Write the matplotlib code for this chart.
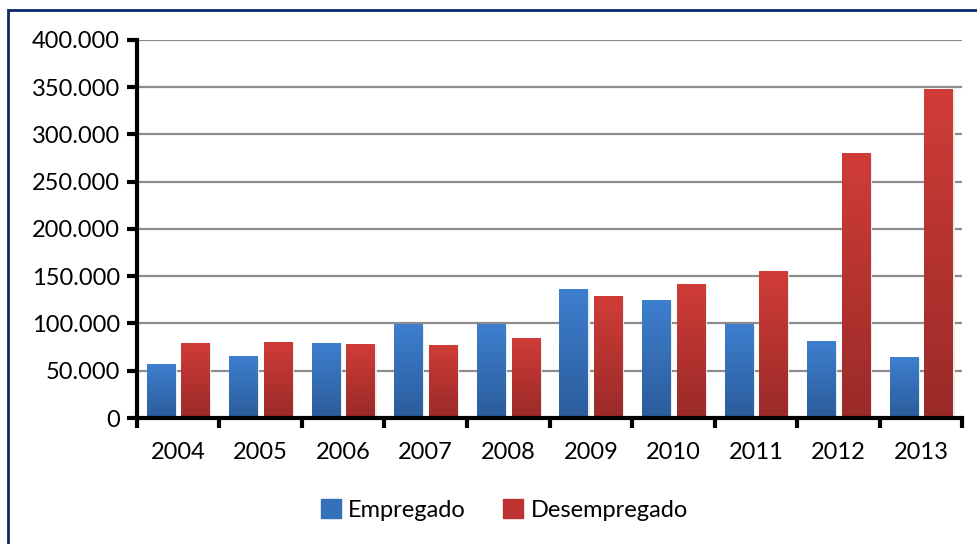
import numpy as np
import matplotlib
matplotlib.use("Agg")
from matplotlib import pyplot as plt
from matplotlib.colors import LinearSegmentedColormap
from matplotlib.patches import Rectangle
from matplotlib.ticker import FuncFormatter

years = ["2004", "2005", "2006", "2007", "2008", "2009", "2010", "2011", "2012", "2013"]
empregado = [57000, 65500, 79500, 99000, 99000, 136500, 125000, 99000, 81500, 64500]
desempregado = [79500, 80500, 78500, 77500, 84500, 129000, 142000, 155500, 280500, 348000]

plt.rcParams['font.family'] = ['Lato', 'DejaVu Sans']

fig = plt.figure(figsize=(9.77, 5.44), dpi=100)
ax = fig.add_axes([0.140, 0.2316, 0.845, 0.695])

blueMap = LinearSegmentedColormap.from_list("b", ["#2b5c9b", "#3e7fcf"])
redMap = LinearSegmentedColormap.from_list("r", ["#9a2a28", "#d03c38"])
grad = np.linspace(0, 1, 256).reshape(-1, 1)

x = np.arange(len(years))
w = 0.34
off = 0.21
barsE = ax.bar(x - off, empregado, w, color="#3a75c4", zorder=3, label="Empregado")
barsD = ax.bar(x + off, desempregado, w, color="#c33633", zorder=3, label="Desempregado")

# gradient fill like the excel bars
for bars, cmap in [(barsE, blueMap), (barsD, redMap)]:
    for b in bars:
        x0, y0 = b.get_x(), b.get_y()
        x1, y1 = x0 + b.get_width(), y0 + b.get_height()
        # soft shadow on the right side
        ax.add_patch(Rectangle((x1, y0), 0.025, b.get_height() - 1500, color="#ececec", zorder=2, lw=0))
        im = ax.imshow(grad, cmap=cmap, extent=[x0, x1, y0, y1], origin="lower",
                       aspect="auto", zorder=4)
        im.set_clip_path(b)

ax.set_xlim(-0.5, len(years) - 0.5)
ax.set_ylim(0, 400000)
ax.set_yticks(np.arange(0, 400001, 50000))
ax.yaxis.set_major_formatter(FuncFormatter(lambda v, p: "0" if v == 0 else f"{int(v):,}".replace(",", ".")))
ax.set_xticks(x)
ax.set_xticklabels(years)
ax.set_xticks(np.arange(-0.5, len(years), 1), minor=True)
ax.tick_params(axis="x", which="major", length=0, labelsize=17, pad=17)
ax.tick_params(axis="x", which="minor", length=7, width=3, direction="out")
ax.tick_params(axis="y", length=7, width=3, direction="out", labelsize=17, pad=5)

ax.grid(axis="y", color="#8c8c8c", lw=1.6, zorder=1)
ax.set_axisbelow(True)
for s in ["top", "right"]:
    ax.spines[s].set_visible(False)
for s in ["left", "bottom"]:
    ax.spines[s].set_linewidth(3)
    ax.spines[s].set_zorder(5)

leg = fig.legend(handles=[barsE, barsD], loc="center", bbox_to_anchor=(0.516, 0.062),
                 ncol=2, frameon=False, fontsize=17, handlelength=0.85, handleheight=0.85,
                 handletextpad=0.3, columnspacing=1.6)
leg.legend_handles[0].set_color("#3570bb")
leg.legend_handles[1].set_color("#bb3431")

# chart border
fig.patches.append(Rectangle((8 / 977, -0.1), 1.2, 0.1 + (544 - 10) / 544, transform=fig.transFigure,
                             fill=False, ec="#0c2a6a", lw=2, clip_on=False))

fig.savefig("out.png", dpi=100)
